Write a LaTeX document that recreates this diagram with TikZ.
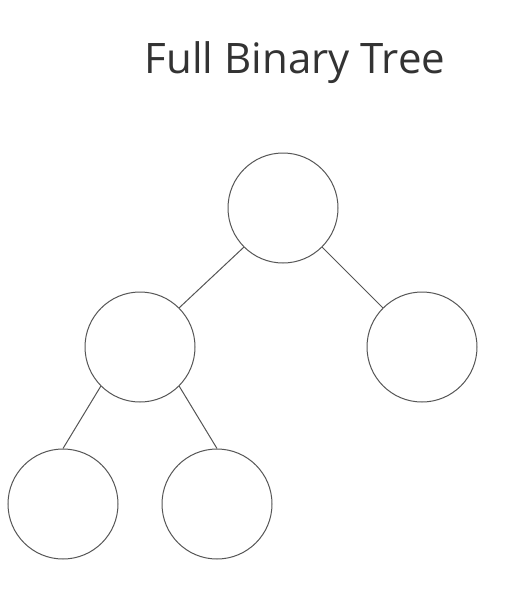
\documentclass[tikz,border=0pt]{standalone}
\usepackage{fontspec}
\setmainfont{Open Sans}
\usepackage{tikz}
\definecolor{linegray}{RGB}{85, 85, 85}
\definecolor{titlegray}{RGB}{51, 51, 51}

\begin{document}
\begin{tikzpicture}[x=0.75pt, y=-0.75pt,
        treenode/.style={draw=linegray, circle, line width=0.75pt, minimum size=82.5pt, inner sep=0pt},
        treeedge/.style={draw=linegray, line width=0.75pt}]
            \pgfmathsetmacro{\firstRow}{208}
            \pgfmathsetmacro{\secondRow}{347}
            \pgfmathsetmacro{\thirdRow}{504}

            % keep the page as large as the reference
            \useasboundingbox (0, 0) rectangle (521, 603);

            \node[text=titlegray, font=\fontsize{31.5}{36}\selectfont, anchor=base] (title) at (295, 73) {Full Binary Tree};

            % root
            \node[treenode] (n1) at (283, \firstRow) {};

            % create next layer
            \node[treenode] (n2) at (140, \secondRow) {};
            \node[treenode] (n3) at (422, \secondRow) {};

            % create last layer
            \node[treenode] (n4) at (63, \thirdRow) {};
            \node[treenode] (n5) at (217, \thirdRow) {};

            % connect parents to children
            \draw[treeedge] (n1.south west) -- (n2.north east);
            \draw[treeedge] (n1.south east) -- (n3.north west);
            \draw[treeedge] (n2.south west) -- (n4.north);
            \draw[treeedge] (n2.south east) -- (n5.north);

        \end{tikzpicture}
\end{document}
